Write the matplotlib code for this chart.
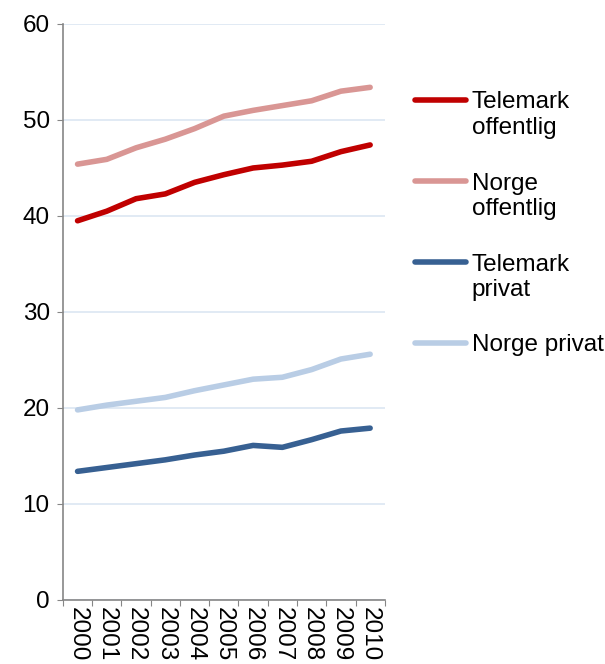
import matplotlib.pyplot as plt
from matplotlib.lines import Line2D

years = ['2000', '2001', '2002', '2003', '2004', '2005', '2006', '2007', '2008', '2009', '2010']
telemark_off = [39.5, 40.5, 41.8, 42.3, 43.5, 44.3, 45.0, 45.3, 45.7, 46.7, 47.4]
norge_off = [45.4, 45.9, 47.1, 48.0, 49.1, 50.4, 51.0, 51.5, 52.0, 53.0, 53.4]
telemark_priv = [13.4, 13.8, 14.2, 14.6, 15.1, 15.5, 16.1, 15.9, 16.7, 17.6, 17.9]
norge_priv = [19.8, 20.3, 20.7, 21.1, 21.8, 22.4, 23.0, 23.2, 24.0, 25.1, 25.6]

labels = ['Telemark\noffentlig', 'Norge\noffentlig', 'Telemark\nprivat', 'Norge privat']
colors = ['#C00000', '#D99694', '#376092', '#B9CDE5']
series = [telemark_off, norge_off, telemark_priv, norge_priv]

plt.rcParams['font.family'] = ['Liberation Sans', 'DejaVu Sans']

fig = plt.figure(figsize=(6.05, 6.64), dpi=100)
ax = fig.add_axes([0.104, 0.0964, 0.532, 0.8675])

x = list(range(len(years)))
for vals, c in zip(series, colors):
    ax.plot(x, vals, color=c, linewidth=4, solid_capstyle='round', solid_joinstyle='round')

ax.set_xlim(-0.5, len(years) - 0.5)
ax.set_ylim(0, 60)
ax.set_yticks(range(0, 61, 10))
ax.yaxis.grid(True, color='#DCE6F2', linewidth=1.2)
ax.set_axisbelow(True)

ax.set_xticks([i - 0.5 for i in range(len(years) + 1)])
ax.set_xticklabels([])
ax.set_xticks(x, minor=True)
ax.set_xticklabels(years, minor=True, rotation=270, fontsize=17.5, va='top', ha='center')
ax.tick_params(axis='x', which='minor', length=0, pad=5)
ax.tick_params(axis='x', which='major', length=4, color='#868686')
ax.tick_params(axis='y', length=4.5, color='#868686', labelsize=17.5, pad=5)

for s in ['top', 'right']:
    ax.spines[s].set_visible(False)
for s in ['left', 'bottom']:
    ax.spines[s].set_color('#868686')
    ax.spines[s].set_linewidth(1.2)

# legend drawn by hand so the line sits on the first text row
leg_y = [0.850, 0.727, 0.605, 0.484]
for lab, c, yy in zip(labels, colors, leg_y):
    fig.add_artist(Line2D([0.686, 0.771], [yy, yy], color=c, linewidth=4,
                          solid_capstyle='round', transform=fig.transFigure))
    fig.text(0.780, yy + 0.013, lab, fontsize=17.5, va='top', ha='left', linespacing=1.22)

plt.savefig('out.png', dpi=100)
